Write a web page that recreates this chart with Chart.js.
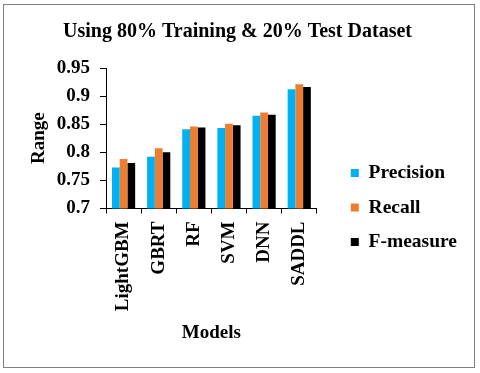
<!doctype html>
<html lang="en">
<head>
<meta charset="utf-8">
<title>Using 80% Training & 20% Test Dataset</title>
<script src="https://cdn.jsdelivr.net/npm/chart.js@4.4.1/dist/chart.umd.min.js"></script>
<style>
  * { margin: 0; padding: 0; box-sizing: border-box; }
  html, body { width: 480px; height: 373px; background: #fff; overflow: hidden; }
  .frame {
    position: absolute; left: 3px; top: 4px; width: 472px; height: 364px;
    border: 1px solid #7f7f7f;
  }
  #canvas { position: absolute; left: 0; top: 0; }
</style>
</head>
<body>
<div class="frame"></div>
<canvas id="canvas" width="480" height="373"></canvas>

<script>
  // values
  var models = ["LightGBM", "GBRT", "RF", "SVM", "DNN", "SADDL"];
  var precision = [0.773, 0.792, 0.841, 0.843, 0.865, 0.912];
  var recall    = [0.788, 0.807, 0.846, 0.851, 0.871, 0.921];
  var fMeasure  = [0.781, 0.800, 0.844, 0.848, 0.867, 0.916];
  var yMin = 0.7, yMax = 0.95, yStep = 0.05;

  var serif = "'Liberation Serif', 'Times New Roman', serif";
  Chart.defaults.font.family = serif;
  Chart.defaults.font.weight = "bold";
  Chart.defaults.color = "#000";

  var ctx = document.getElementById("canvas").getContext("2d");

  var myChart = new Chart(ctx, {
    type: "bar",
    data: {
      labels: models,
      datasets: [
        { label: "Precision", data: precision, backgroundColor: "#00b0f0" },
        { label: "Recall", data: recall, backgroundColor: "#ed7d31" },
        { label: "F-measure", data: fMeasure, backgroundColor: "#000000" }
      ]
    },
    options: {
      responsive: false,
      animation: false,
      events: [],
      datasets: {
        bar: { categoryPercentage: 0.66, barPercentage: 1.0 }
      },
      layout: { padding: { left: 8, right: 13, top: 0, bottom: 18 } },
      plugins: {
        title: {
          display: true,
          text: "Using 80% Training & 20% Test Dataset",
          font: { size: 20, weight: "bold" },
          color: "#000",
          padding: { top: 20, bottom: 24 }
        },
        legend: {
          position: "right",
          align: "center",
          maxWidth: 150,
          title: { display: true, text: "", font: { size: 10 }, padding: { top: 48, bottom: 0 } },
          labels: {
            boxWidth: 8, boxHeight: 8, padding: 15,
            font: { size: 19.5, weight: "bold" },
            color: "#000"
          }
        },
        tooltip: { enabled: false }
      },
      scales: {
        x: {
          grid: { drawOnChartArea: false, offset: true, tickLength: 5, color: "#000" },
          border: { color: "#000" },
          ticks: { minRotation: 90, maxRotation: 90, padding: 8, font: { size: 19 }, color: "#000" },
          title: { display: true, text: "Models", font: { size: 19 }, color: "#000", padding: { top: 2, bottom: 11 } }
        },
        y: {
          min: yMin, max: yMax,
          grid: { drawOnChartArea: false, tickLength: 6, color: "#000" },
          border: { color: "#000" },
          ticks: {
            stepSize: yStep, padding: 10, font: { size: 19 }, color: "#000",
            callback: function (v) { return +v.toFixed(2); }
          },
          title: { display: true, text: "Range", font: { size: 19 }, color: "#000", padding: { top: 20, bottom: 8 } },
          afterFit: function (scale) { scale.width = 98; }
        },
        gap: {
          // empty right-hand axis, only to keep space between the bars and the legend
          position: "right",
          display: true,
          grid: { display: false },
          border: { display: false },
          ticks: { display: false },
          afterFit: function (scale) { scale.width = 19; }
        }
      }
    }
  });
</script>
</body>
</html>
